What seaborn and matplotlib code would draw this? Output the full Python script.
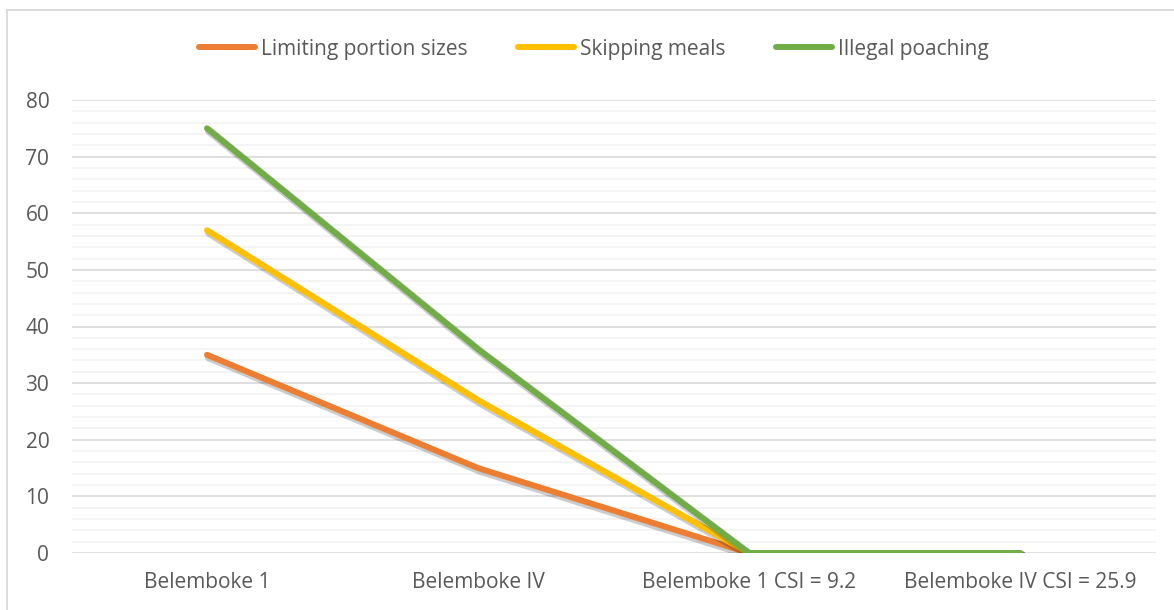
import matplotlib
matplotlib.use("Agg")
import matplotlib.pyplot as plt
import matplotlib.patheffects as pe
from matplotlib.patches import Rectangle
from matplotlib.ticker import MultipleLocator
import pandas as pd
import seaborn as sns

sites = ["Belemboke 1", "Belemboke IV", "Belemboke 1 CSI = 9.2", "Belemboke IV CSI = 25.9"]
limiting_portion = [35, 15, 0, 0]
skipping_meals = [57, 27, 0, 0]
illegal_poaching = [75, 36, 0, 0]

series_names = ["Limiting portion sizes", "Skipping meals", "Illegal poaching"]
colors = ["#ED7D31", "#FFC000", "#70AD47"]

df = pd.DataFrame({
    "site": sites * 3,
    "pos": list(range(len(sites))) * 3,
    "value": limiting_portion + skipping_meals + illegal_poaching,
    "series": [s for s in series_names for _ in sites],
})

sns.set_theme(style="white")
plt.rcParams["font.family"] = ["Open Sans", "DejaVu Sans"]

W, H = 1174, 610
fig = plt.figure(figsize=(W / 100, H / 100), dpi=100)
ax = fig.add_axes([71.5 / W, (H - 553) / H, (1155.5 - 71.5) / W, (553 - 100) / H])

sns.lineplot(data=df, x="pos", y="value", hue="series", hue_order=series_names,
             palette=colors, linewidth=4.3, ax=ax, legend=False, zorder=5)

shadow = [pe.SimpleLineShadow(offset=(1.5, -1.8), shadow_color="#000000", alpha=0.2, linewidth=6.0),
          pe.Normal()]
for line in ax.get_lines():
    line.set_path_effects(shadow)
    line.set_solid_capstyle("round")
    line.set_solid_joinstyle("round")

ax.set_xlim(-0.5, len(sites) - 0.5)
ax.set_ylim(0, 80)
ax.set_xticks(range(len(sites)))
ax.set_xticklabels(sites)
ax.yaxis.set_major_locator(MultipleLocator(10))
ax.yaxis.set_minor_locator(MultipleLocator(2))
ax.grid(which="major", axis="y", color="#D9D9D9", linewidth=1.2, zorder=0)
ax.grid(which="minor", axis="y", color="#F2F2F2", linewidth=1.2, zorder=0)
ax.grid(False, axis="x")
ax.set_axisbelow(True)
for s in ax.spines.values():
    s.set_visible(False)
ax.tick_params(axis="both", which="both", length=0, labelsize=15, colors="#595959")
ax.tick_params(axis="y", pad=16)
ax.tick_params(axis="x", pad=14)
ax.set_xlabel("")
ax.set_ylabel("")

# chart frame
fig.patches.append(Rectangle((7 / W, -0.05), 1.2, (H - 10) / H + 0.05, transform=fig.transFigure,
                             fill=False, edgecolor="#D9D9D9", linewidth=1.3))

handles = [plt.Line2D([0], [0], color=c, linewidth=4.3, solid_capstyle="round") for c in colors]
fig.legend(handles, series_names, loc="center", bbox_to_anchor=(594 / W, (H - 49) / H), ncol=3,
           frameon=False, fontsize=15, labelcolor="#595959", handlelength=2.7,
           handletextpad=0.3, columnspacing=2.4, borderpad=0, borderaxespad=0)

fig.savefig("out.png", dpi=100)
